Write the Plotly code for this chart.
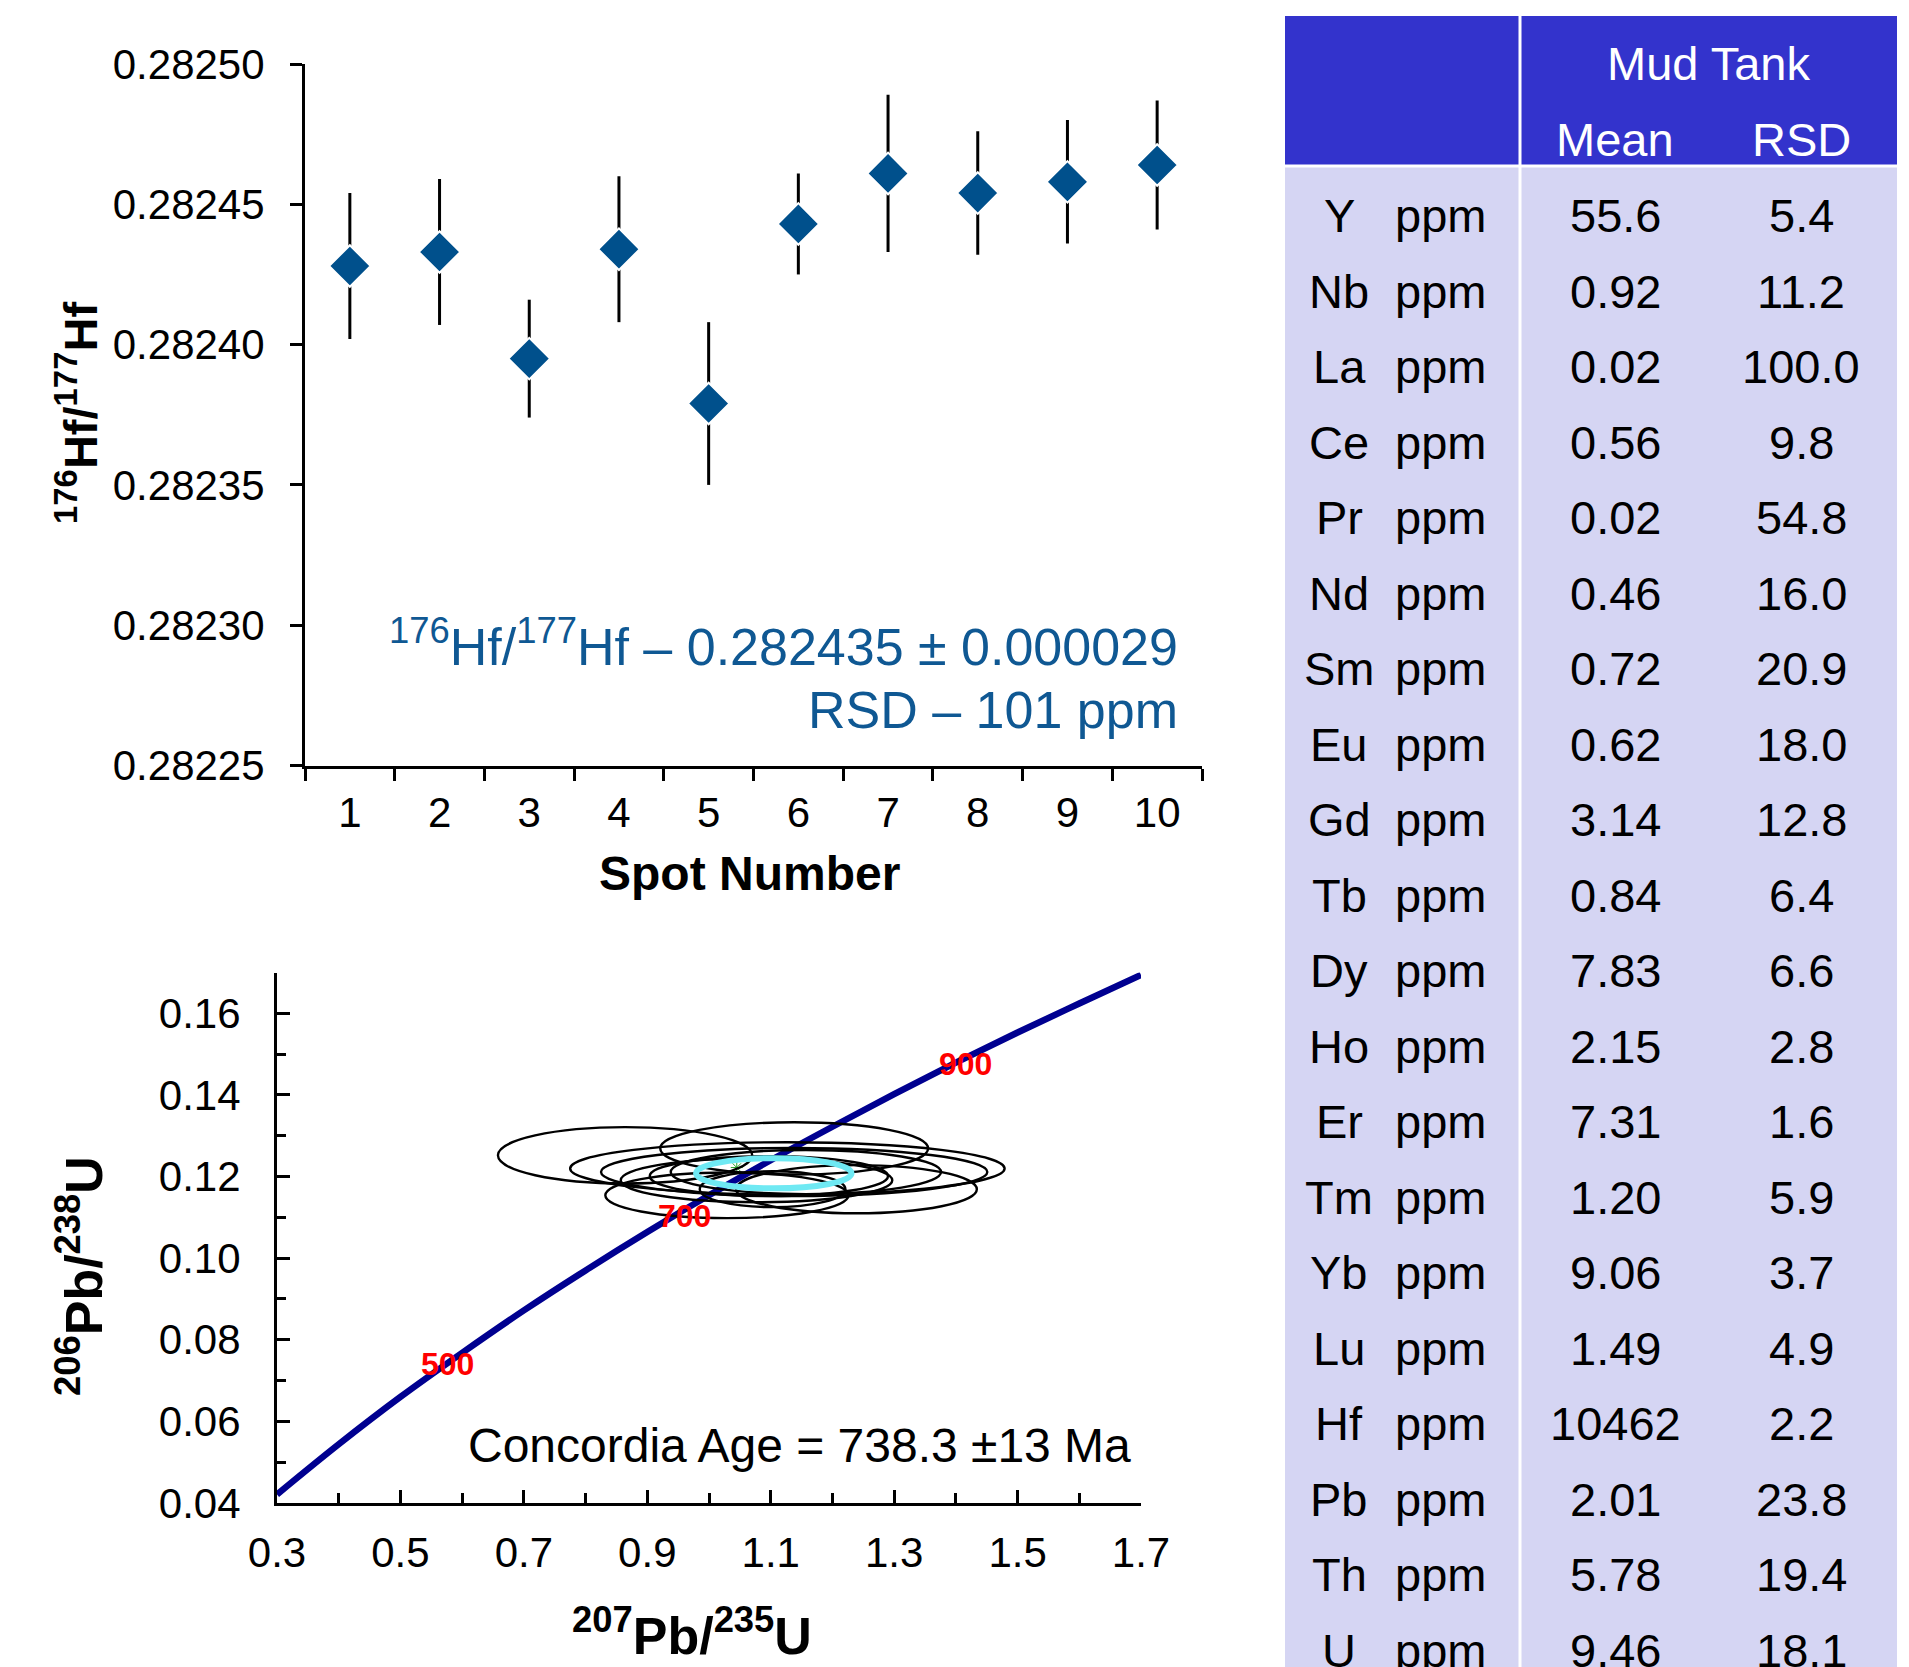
import plotly.graph_objects as go

# ---------------- data ----------------
# Top panel: 176Hf/177Hf per spot
spot = [1, 2, 3, 4, 5, 6, 7, 8, 9, 10]
hf_ratio = [0.282428, 0.282433, 0.282395, 0.282434, 0.282379,
            0.282443, 0.282461, 0.282454, 0.282458, 0.282464]
hf_err = [0.000026, 0.000026, 0.000021, 0.000026, 0.000029,
          0.000018, 0.000028, 0.000022, 0.000022, 0.000023]

# Bottom panel: concordia curve
conc_x = [0.3, 0.4, 0.5, 0.6, 0.7, 0.8, 0.9, 1.0, 1.1, 1.2, 1.3, 1.4, 1.5, 1.6, 1.7]
conc_y = [0.0421, 0.0544, 0.0660, 0.0768, 0.0872, 0.0970, 0.1064, 0.1154, 0.1240, 0.1322,
          0.1402, 0.1479, 0.1553, 0.1624, 0.1694]
age_labels = ["500", "700", "900"]
age_x = [0.576, 0.961, 1.415]
age_y = [0.074, 0.1103, 0.1475]

# error ellipses (centre, semi-axes)
ell_cx = [0.864, 1.138, 1.127, 1.138, 1.239, 1.029, 1.157, 1.077, 1.097, 1.103]
ell_cy = [0.1252, 0.1269, 0.1220, 0.1211, 0.1169, 0.1154, 0.1211, 0.1191, 0.1201, 0.1169]
ell_rx = [0.206, 0.217, 0.352, 0.313, 0.195, 0.197, 0.219, 0.220, 0.193, 0.118]
ell_ry = [0.0069, 0.0064, 0.0064, 0.0059, 0.0059, 0.0056, 0.0054, 0.0054, 0.0049, 0.0044]
mean_ell = dict(cx=1.105, cy=0.1208, rx=0.126, ry=0.0037)
conc_point_x = [1.045]
conc_point_y = [0.1222]

# Table
elements = ["Y", "Nb", "La", "Ce", "Pr", "Nd", "Sm", "Eu", "Gd", "Tb",
            "Dy", "Ho", "Er", "Tm", "Yb", "Lu", "Hf", "Pb", "Th", "U"]
units = ["ppm"] * 20
mean_vals = ["55.6", "0.92", "0.02", "0.56", "0.02", "0.46", "0.72", "0.62", "3.14", "0.84",
             "7.83", "2.15", "7.31", "1.20", "9.06", "1.49", "10462", "2.01", "5.78", "9.46"]
rsd_vals = ["5.4", "11.2", "100.0", "9.8", "54.8", "16.0", "20.9", "18.0", "12.8", "6.4",
            "6.6", "2.8", "1.6", "5.9", "3.7", "4.9", "2.2", "23.8", "19.4", "18.1"]

# ---------------- layout constants ----------------
W, H = 1909, 1667
OFF = 8  # page body margin: screen px = figure px + 8
FONT = "Arial, Liberation Sans, sans-serif"
def px(x): return (x - OFF) / W
def py(y): return 1 - (y - OFF) / H

fig = go.Figure()

# top panel
fig.add_trace(go.Scatter(
    x=spot, y=hf_ratio, mode="markers",
    marker=dict(symbol="diamond", size=32, color="#00508C",
                line=dict(color="white", width=2)),
    error_y=dict(type="data", array=hf_err, visible=True, color="black",
                 thickness=3, width=0),
    xaxis="x", yaxis="y", showlegend=False))

# bottom panel concordia
fig.add_trace(go.Scatter(
    x=conc_x, y=conc_y, mode="lines",
    line=dict(color="#000090", width=6.5, shape="spline"),
    xaxis="x2", yaxis="y2", showlegend=False))
fig.add_trace(go.Scatter(
    x=conc_point_x, y=conc_point_y, mode="markers",
    marker=dict(symbol="asterisk-open", size=10, line=dict(color="black", width=1)),
    xaxis="x2", yaxis="y2", showlegend=False))

shapes = []
for cx, cy, rx, ry in zip(ell_cx, ell_cy, ell_rx, ell_ry):
    shapes.append(dict(type="circle", xref="x2", yref="y2",
                       x0=cx - rx, x1=cx + rx, y0=cy - ry, y1=cy + ry,
                       line=dict(color="black", width=2.4)))
shapes.append(dict(type="circle", xref="x2", yref="y2",
                   x0=mean_ell["cx"] - mean_ell["rx"], x1=mean_ell["cx"] + mean_ell["rx"],
                   y0=mean_ell["cy"] - mean_ell["ry"], y1=mean_ell["cy"] + mean_ell["ry"],
                   line=dict(color="#6FE9F3", width=6)))

# table geometry (x3 in px from table left, y3 in row units)
TBL_L, TBL_R = 1285, 1897
TBL_TOP = 16
ROW0, ROWH = 215.5, 75.5
def ru(y): return (y - ROW0) / ROWH
y3_top, y3_bot = ru(TBL_TOP), ru(H + OFF)
hdr_bot = ru(166)
DIV_X = 1520 - TBL_L
COL_EL, COL_UNIT, COL_MEAN, COL_RSD = 54, 155, 330, 516
TW = TBL_R - TBL_L

shapes += [
    dict(type="rect", xref="x3", yref="y3", x0=0, x1=TW, y0=y3_top, y1=hdr_bot,
         fillcolor="#3333CC", line=dict(width=0), layer="below"),
    dict(type="rect", xref="x3", yref="y3", x0=0, x1=TW, y0=hdr_bot, y1=y3_bot,
         fillcolor="#D5D5F3", line=dict(width=0), layer="below"),
    dict(type="line", xref="x3", yref="y3", x0=DIV_X, x1=DIV_X, y0=y3_top, y1=y3_bot,
         line=dict(color="white", width=3)),
    dict(type="line", xref="x3", yref="y3", x0=0, x1=TW, y0=hdr_bot, y1=hdr_bot,
         line=dict(color="white", width=3)),
]

annotations = []
TF = dict(family=FONT, size=47, color="black")
for i, (el, un, mv, rv) in enumerate(zip(elements, units, mean_vals, rsd_vals)):
    for xx, txt in ((COL_EL, el), (COL_UNIT, un), (COL_MEAN, mv), (COL_RSD, rv)):
        annotations.append(dict(xref="x3", yref="y3", x=xx, y=i, text=txt,
                                showarrow=False, xanchor="center", yanchor="middle",
                                font=TF))
HF = dict(family=FONT, size=47, color="white")
annotations += [
    dict(xref="x3", yref="y3", x=(COL_MEAN + COL_RSD) / 2, y=ru(63), text="Mud Tank",
         showarrow=False, font=HF, xanchor="center", yanchor="middle"),
    dict(xref="x3", yref="y3", x=COL_MEAN, y=ru(139), text="Mean",
         showarrow=False, font=HF, xanchor="center", yanchor="middle"),
    dict(xref="x3", yref="y3", x=COL_RSD, y=ru(139), text="RSD",
         showarrow=False, font=HF, xanchor="center", yanchor="middle"),
]

# top panel texts
BLUE_T = "#0F5893"
annotations += [
    dict(xref="paper", yref="paper", x=px(1180), y=py(643),
         text="<sup>176</sup>Hf/<sup>177</sup>Hf – 0.282435 ± 0.000029",
         showarrow=False, xanchor="right", yanchor="middle",
         font=dict(family=FONT, size=52, color=BLUE_T)),
    dict(xref="paper", yref="paper", x=px(1180), y=py(710),
         text="RSD – 101 ppm", showarrow=False, xanchor="right", yanchor="middle",
         font=dict(family=FONT, size=52, color=BLUE_T)),
    dict(xref="paper", yref="paper", x=px(77), y=py(413),
         text="<b><sup>176</sup>Hf/<sup>177</sup>Hf</b>", textangle=-90,
         showarrow=False, xanchor="center", yanchor="middle",
         font=dict(family=FONT, size=47, color="black")),
    dict(xref="paper", yref="paper", x=px(749), y=py(874),
         text="<b>Spot Number</b>", showarrow=False, xanchor="center", yanchor="middle",
         font=dict(family=FONT, size=48, color="black")),
]

# bottom panel texts
for lbl, ax_, ay_ in zip(age_labels, age_x, age_y):
    annotations.append(dict(xref="x2", yref="y2", x=ax_, y=ay_, text="<b>%s</b>" % lbl,
                            showarrow=False, xanchor="center", yanchor="middle",
                            font=dict(family=FONT, size=32, color="red")))
annotations += [
    dict(xref="paper", yref="paper", x=px(1133), y=py(1445),
         text="Concordia Age = 738.3 ±13 Ma", showarrow=False,
         xanchor="right", yanchor="middle",
         font=dict(family=FONT, size=48, color="black")),
    dict(xref="paper", yref="paper", x=px(80), y=py(1276),
         text="<b><sup>206</sup>Pb/<sup>238</sup>U</b>", textangle=-90,
         showarrow=False, xanchor="center", yanchor="middle",
         font=dict(family=FONT, size=52, color="black")),
    dict(xref="paper", yref="paper", x=px(692), y=py(1632),
         text="<b><sup>207</sup>Pb/<sup>235</sup>U</b>",
         showarrow=False, xanchor="center", yanchor="middle",
         font=dict(family=FONT, size=52, color="black")),
]

TICKF = dict(family=FONT, size=42, color="black")
fig.update_layout(
    template="none",
    width=W, height=H, margin=dict(l=0, r=0, t=0, b=0, pad=0, autoexpand=False),
    paper_bgcolor="white", plot_bgcolor="rgba(0,0,0,0)",
    font=dict(family=FONT, color="black"),
    showlegend=False,
    shapes=shapes, annotations=annotations,
    xaxis=dict(domain=[px(305), px(1202)], range=[0.5, 10.5], anchor="y",
               tickmode="array", tickvals=spot, ticks="outside", ticklen=2,
               tickcolor="rgba(0,0,0,0)", tickfont=TICKF, ticklabelstandoff=6,
               minor=dict(tickmode="array", tickvals=[v - 0.5 for v in spot] + [10.5],
                          ticks="outside", ticklen=12, tickwidth=3, tickcolor="black"),
               showline=True, linecolor="black", linewidth=3, automargin=False,
               showgrid=False, zeroline=False, fixedrange=True),
    yaxis=dict(domain=[py(765.5), py(64)], range=[0.28225, 0.28250], anchor="x",
               tick0=0.28225, dtick=0.00005, tickformat=".5f",
               ticks="outside", ticklen=12, tickwidth=3, tickcolor="black",
               tickfont=TICKF, ticklabelstandoff=17, automargin=False,
               showline=True, linecolor="black", linewidth=3,
               showgrid=False, zeroline=False, fixedrange=True),
    xaxis2=dict(domain=[px(277), px(1141)], range=[0.3, 1.7], anchor="y2",
                tick0=0.3, dtick=0.2, tickformat=".1f",
                ticks="inside", ticklen=13, tickwidth=3, tickcolor="black",
                minor=dict(tick0=0.3, dtick=0.1, ticks="inside", ticklen=10,
                           tickwidth=3, tickcolor="black"),
                tickfont=TICKF, ticklabelstandoff=11, automargin=False,
                showline=True, linecolor="black", linewidth=3,
                showgrid=False, zeroline=False, fixedrange=True),
    yaxis2=dict(domain=[py(1503), py(972.5)], range=[0.04, 0.17], anchor="x2",
                tick0=0.04, dtick=0.02, tickformat=".2f",
                ticks="inside", ticklen=13, tickwidth=3, tickcolor="black",
                minor=dict(tick0=0.04, dtick=0.01, ticks="inside", ticklen=9,
                           tickwidth=3, tickcolor="black"),
                tickfont=TICKF, ticklabelstandoff=25, automargin=False,
                showline=True, linecolor="black", linewidth=3,
                showgrid=False, zeroline=False, fixedrange=True),
    xaxis3=dict(domain=[px(TBL_L), px(TBL_R)], range=[0, TW], anchor="y3",
                visible=False, fixedrange=True, automargin=False),
    yaxis3=dict(domain=[0, py(TBL_TOP)], range=[y3_bot, y3_top], anchor="x3",
                visible=False, fixedrange=True, automargin=False),
)

fig.write_html("out.html")
